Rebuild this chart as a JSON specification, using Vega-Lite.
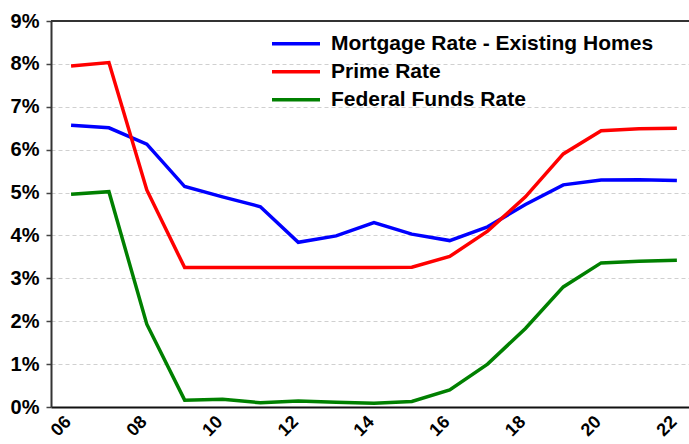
{
  "$schema": "https://vega.github.io/schema/vega-lite/v6.json",
  "width": 638,
  "height": 386,
  "autosize": {"type": "none"},
  "padding": {"left": 51, "top": 21, "right": 0, "bottom": 37},
  "background": "white",
  "config": {
    "view": {"stroke": null},
    "font": "Liberation Sans"
  },
  "data": {
    "values": [
      {"year": 2006, "series": "Mortgage Rate - Existing Homes", "value": 6.57},
      {"year": 2007, "series": "Mortgage Rate - Existing Homes", "value": 6.51},
      {"year": 2008, "series": "Mortgage Rate - Existing Homes", "value": 6.13},
      {"year": 2009, "series": "Mortgage Rate - Existing Homes", "value": 5.14},
      {"year": 2010, "series": "Mortgage Rate - Existing Homes", "value": 4.90},
      {"year": 2011, "series": "Mortgage Rate - Existing Homes", "value": 4.67},
      {"year": 2012, "series": "Mortgage Rate - Existing Homes", "value": 3.84},
      {"year": 2013, "series": "Mortgage Rate - Existing Homes", "value": 3.99},
      {"year": 2014, "series": "Mortgage Rate - Existing Homes", "value": 4.30},
      {"year": 2015, "series": "Mortgage Rate - Existing Homes", "value": 4.03},
      {"year": 2016, "series": "Mortgage Rate - Existing Homes", "value": 3.88},
      {"year": 2017, "series": "Mortgage Rate - Existing Homes", "value": 4.20},
      {"year": 2018, "series": "Mortgage Rate - Existing Homes", "value": 4.72},
      {"year": 2019, "series": "Mortgage Rate - Existing Homes", "value": 5.18},
      {"year": 2020, "series": "Mortgage Rate - Existing Homes", "value": 5.29},
      {"year": 2021, "series": "Mortgage Rate - Existing Homes", "value": 5.30},
      {"year": 2022, "series": "Mortgage Rate - Existing Homes", "value": 5.28},
      {"year": 2006, "series": "Prime Rate", "value": 7.95},
      {"year": 2007, "series": "Prime Rate", "value": 8.03},
      {"year": 2008, "series": "Prime Rate", "value": 5.06},
      {"year": 2009, "series": "Prime Rate", "value": 3.25},
      {"year": 2010, "series": "Prime Rate", "value": 3.25},
      {"year": 2011, "series": "Prime Rate", "value": 3.25},
      {"year": 2012, "series": "Prime Rate", "value": 3.25},
      {"year": 2013, "series": "Prime Rate", "value": 3.25},
      {"year": 2014, "series": "Prime Rate", "value": 3.25},
      {"year": 2015, "series": "Prime Rate", "value": 3.26},
      {"year": 2016, "series": "Prime Rate", "value": 3.51},
      {"year": 2017, "series": "Prime Rate", "value": 4.10},
      {"year": 2018, "series": "Prime Rate", "value": 4.90},
      {"year": 2019, "series": "Prime Rate", "value": 5.90},
      {"year": 2020, "series": "Prime Rate", "value": 6.44},
      {"year": 2021, "series": "Prime Rate", "value": 6.49},
      {"year": 2022, "series": "Prime Rate", "value": 6.50},
      {"year": 2006, "series": "Federal Funds Rate", "value": 4.96},
      {"year": 2007, "series": "Federal Funds Rate", "value": 5.02},
      {"year": 2008, "series": "Federal Funds Rate", "value": 1.93},
      {"year": 2009, "series": "Federal Funds Rate", "value": 0.16},
      {"year": 2010, "series": "Federal Funds Rate", "value": 0.18},
      {"year": 2011, "series": "Federal Funds Rate", "value": 0.10},
      {"year": 2012, "series": "Federal Funds Rate", "value": 0.14},
      {"year": 2013, "series": "Federal Funds Rate", "value": 0.11},
      {"year": 2014, "series": "Federal Funds Rate", "value": 0.09},
      {"year": 2015, "series": "Federal Funds Rate", "value": 0.13},
      {"year": 2016, "series": "Federal Funds Rate", "value": 0.40},
      {"year": 2017, "series": "Federal Funds Rate", "value": 1.00},
      {"year": 2018, "series": "Federal Funds Rate", "value": 1.83},
      {"year": 2019, "series": "Federal Funds Rate", "value": 2.80},
      {"year": 2020, "series": "Federal Funds Rate", "value": 3.36},
      {"year": 2021, "series": "Federal Funds Rate", "value": 3.40},
      {"year": 2022, "series": "Federal Funds Rate", "value": 3.42}
    ]
  },
  "layer": [
    {
      "mark": {"type": "rule", "color": "#333333", "strokeWidth": 2},
      "encoding": {"y": {"datum": 9, "type": "quantitative", "scale": {"domain": [0, 9], "nice": false}}}
    },
    {
      "mark": {"type": "line", "strokeWidth": 3.5, "clip": true},
      "encoding": {
        "x": {
          "field": "year",
          "type": "quantitative",
          "scale": {"domain": [2005.47, 2022.32], "nice": false, "zero": false},
          "axis": {
            "title": null,
            "values": [2006, 2008, 2010, 2012, 2014, 2016, 2018, 2020, 2022],
            "labelExpr": "substring(toString(datum.value), 2)",
            "labelAngle": -45,
            "labelAlign": "right",
            "labelBaseline": "middle",
            "labelFontSize": 18,
            "labelFontWeight": "bold",
            "labelColor": "black",
            "labelPadding": 12,
            "labelOffset": -3,
            "ticks": false,
            "grid": false,
            "domainColor": "#111111",
            "domainWidth": 2
          }
        },
        "y": {
          "field": "value",
          "type": "quantitative",
          "scale": {"domain": [0, 9], "nice": false},
          "axis": {
            "title": null,
            "values": [0, 1, 2, 3, 4, 5, 6, 7, 8, 9],
            "labelExpr": "datum.value + '%'",
            "labelFontSize": 20,
            "labelFontWeight": "bold",
            "labelColor": "black",
            "labelPadding": 7,
            "tickSize": 5,
            "tickColor": "#444444",
            "tickWidth": 1.5,
            "domainColor": "#333333",
            "domainWidth": 2,
            "grid": true,
            "gridDash": [4, 3],
            "gridColor": "#d0d0d0",
            "gridWidth": 1
          }
        },
        "color": {
          "field": "series",
          "type": "nominal",
          "scale": {
            "domain": ["Mortgage Rate - Existing Homes", "Prime Rate", "Federal Funds Rate"],
            "range": ["#0000ff", "#ff0000", "#008000"]
          },
          "legend": {
            "title": null,
            "orient": "none",
            "legendX": 219,
            "legendY": 9,
            "symbolType": "stroke",
            "symbolSize": 2304,
            "symbolStrokeWidth": 3.5,
            "labelFontSize": 21,
            "labelFontWeight": "bold",
            "labelColor": "black",
            "labelOffset": 9,
            "rowPadding": 0,
            "clipHeight": 27.6,
            "labelLimit": 400
          }
        }
      }
    }
  ]
}
